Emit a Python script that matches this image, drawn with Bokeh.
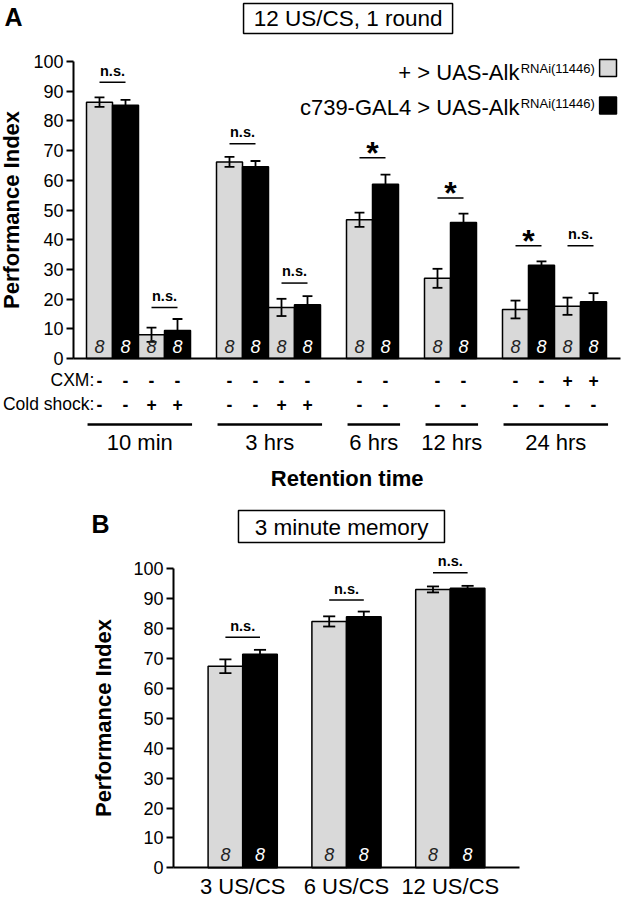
import numpy as np
from bokeh.plotting import figure
from bokeh.models import Range1d, FixedTicker, ColumnDataSource, LinearAxis
from bokeh.layouts import column
from bokeh.core.properties import value
from bokeh.embed import file_html
from bokeh.resources import INLINE

FONT = "Liberation Sans"
F = value(FONT)
GRAY = "#d9d9d9"

# ---------------- Panel A data ----------------
title_A = "12 US/CS, 1 round"
groups_A = ["10 min", "3 hrs", "6 hrs", "12 hrs", "24 hrs"]
bars_per_group_A = [4, 4, 2, 2, 4]
genotype_A = ["ctrl", "exp"] * 8
cxm_A = ["-", "-", "-", "-", "-", "-", "-", "-", "-", "-", "-", "-", "-", "-", "+", "+"]
cold_A = ["-", "-", "+", "+", "-", "-", "+", "+", "-", "-", "-", "-", "-", "-", "-", "-"]
pi_A = [86.3, 85.3, 8.0, 9.4, 66.2, 64.6, 17.2, 18.1, 46.7, 58.7, 27.0, 45.8, 16.5, 31.4, 17.6, 19.1]
sem_A = [1.6, 1.8, 2.4, 3.9, 1.7, 1.9, 2.9, 2.9, 2.4, 3.2, 3.2, 3.0, 3.0, 1.3, 2.9, 2.9]
n_A = [8] * 16
sig_A = ["n.s.", "n.s.", "n.s.", "n.s.", "*", "*", "*", "n.s."]
sig_level_A = [93.0, 17.2, 72.3, 25.4, 67.6, 54.0, 38.0, 38.0]

legend_labels = ["+ > UAS-Alk", "c739-GAL4 > UAS-Alk"]
legend_sup = "RNAi(11446)"

# ---------------- Panel B data ----------------
title_B = "3 minute memory"
groups_B = ["3 US/CS", "6 US/CS", "12 US/CS"]
pi_B_ctrl = [67.4, 82.4, 93.1]
pi_B_exp = [71.4, 84.0, 93.5]
sem_B_ctrl = [2.3, 1.7, 1.0]
sem_B_exp = [1.5, 1.7, 0.8]
n_B = [8] * 6
sig_B = ["n.s.", "n.s.", "n.s."]
sig_level_B = [77.1, 89.6, 98.7]

y_ticks = list(range(0, 101, 10))

W = 623
HA = 494
HB = 405
PPU_A = 2.97   # pixels per y unit, panel A
PPU_B = 2.99   # pixels per y unit, panel B


def bl(y, font_px, ppu):
    """convert a wanted baseline (data units) to the y the text glyph needs"""
    return y + 0.35 * font_px / ppu


def bar_positions(counts, start):
    xs, centers, spans = [], [], []
    pos = start
    for c in counts:
        g = [pos + i for i in range(c)]
        xs += g
        centers.append(sum(g) / len(g))
        spans.append((g[0], g[-1]))
        pos += c + 1
    return xs, centers, spans


def style_yaxis(ax, standoff):
    ax.axis_line_width = 2
    ax.major_tick_line_width = 2
    ax.major_tick_out = 7
    ax.major_tick_in = 0
    ax.minor_tick_line_color = None
    ax.major_label_text_font = FONT
    ax.major_label_text_font_size = "18px"
    ax.major_label_text_color = "black"
    ax.major_label_standoff = 3
    ax.axis_label_text_font = FONT
    ax.axis_label_text_font_size = "22px"
    ax.axis_label_text_font_style = "bold"
    ax.axis_label_text_color = "black"
    ax.axis_label_standoff = standoff


def draw_bars(p, xs, tops, sems, colors, ns, cap, n_y):
    src = ColumnDataSource(dict(x=xs, top=tops, color=colors,
                                lo=[t - s for t, s in zip(tops, sems)],
                                hi=[t + s for t, s in zip(tops, sems)],
                                c0=[x - cap / 2 for x in xs], c1=[x + cap / 2 for x in xs],
                                n=[str(v) for v in ns],
                                ncol=["#222222" if c == GRAY else "white" for c in colors]))
    p.vbar(x="x", top="top", bottom=0, width=1.0, fill_color="color",
           line_color="black", line_width=1.5, source=src)
    p.segment(x0="x", y0="lo", x1="x", y1="hi", line_color="black", line_width=1.8, source=src)
    p.segment(x0="c0", y0="hi", x1="c1", y1="hi", line_color="black", line_width=1.8, source=src)
    p.segment(x0="c0", y0="lo", x1="c1", y1="lo", line_color="black", line_width=1.8, source=src)
    p.text(x="x", y=n_y, text="n", text_color="ncol", text_font=F, text_font_size="18px",
           text_font_style="italic", text_align="center", text_baseline="alphabetic", source=src)


def draw_sig(p, pairs, levels, labels, ns_off, star_off):
    x0 = [a for a, b in pairs]
    x1 = [b for a, b in pairs]
    p.segment(x0=x0, y0=levels, x1=x1, y1=levels, line_color="black", line_width=1.5)
    mids = [(a + b) / 2 for a, b in pairs]
    ns_x = [m for m, l in zip(mids, labels) if l != "*"]
    ns_y = [v + ns_off for v, l in zip(levels, labels) if l != "*"]
    st_x = [m for m, l in zip(mids, labels) if l == "*"]
    st_y = [v + star_off for v, l in zip(levels, labels) if l == "*"]
    p.text(x=ns_x, y=ns_y, text=["n.s."] * len(ns_x), text_font=F, text_font_size="14.5px",
           text_font_style="bold", text_align="center", text_baseline="alphabetic")
    if st_x:
        p.text(x=st_x, y=st_y, text=["*"] * len(st_x), text_font=F, text_font_size="32px",
               text_font_style="bold", text_align="center", text_baseline="alphabetic")


# ================= Panel A =================
xA, centersA, spansA = bar_positions(bars_per_group_A, 1)
colorsA = [GRAY if g == "ctrl" else "black" for g in genotype_A]
x_endA = xA[-1] + 1.05

pA = figure(width=W, height=HA, x_range=Range1d(-2.808, 21.154), y_range=Range1d(-45.79, 120.54),
            output_backend="svg", toolbar_location=None, min_border=0,
            x_axis_type=None, y_axis_type=None)
pA.outline_line_color = None
pA.background_fill_color = "white"

yaxA = LinearAxis(fixed_location=0, bounds=(0, 100), ticker=FixedTicker(ticks=y_ticks),
                  axis_label="Performance Index")
style_yaxis(yaxA, 6)
pA.add_layout(yaxA, "left")
xaxA = LinearAxis(fixed_location=0, bounds=(0, x_endA), ticker=FixedTicker(ticks=[]))
xaxA.axis_line_width = 2
xaxA.major_tick_line_color = None
xaxA.minor_tick_line_color = None
xaxA.major_label_text_font_size = "0px"
pA.add_layout(xaxA, "below")

draw_bars(pA, xA, pi_A, sem_A, colorsA, n_A, 0.38, bl(1.8, 18, PPU_A))
pairsA = [(xA[2 * i], xA[2 * i + 1]) for i in range(len(xA) // 2)]
draw_sig(pA, pairsA, sig_level_A, sig_A, bl(2.25, 14.5, PPU_A), bl(-2.15, 32, PPU_A))

# title box
pA.rect(x=[10.56], y=[114.48], width=[8.04], height=[10.1], fill_color=None,
        line_color="black", line_width=1.5)
pA.text(x=[10.56], y=[bl(111.78, 22.5, PPU_A)], text=[title_A], text_font=F, text_font_size="22.5px",
        text_align="center", text_baseline="alphabetic")
pA.text(x=[-2.31], y=[bl(112.1, 25, PPU_A)], text=["A"], text_font=F, text_font_size="25px",
        text_font_style="bold", text_align="center", text_baseline="alphabetic")

# legend
pA.text(x=[17.15, 17.15], y=[bl(93.6, 22, PPU_A), bl(81.8, 22, PPU_A)], text=legend_labels,
        text_font=F, text_font_size="22px", text_align="right", text_baseline="alphabetic")
pA.text(x=[17.2, 17.2], y=[bl(96.2, 13, PPU_A), bl(84.4, 13, PPU_A)], text=[legend_sup, legend_sup],
        text_font=F, text_font_size="13px", text_align="left", text_baseline="alphabetic")
pA.rect(x=[20.56, 20.56], y=[97.8, 85.2], width=[0.65, 0.65], height=[5.7, 5.7],
        fill_color=[GRAY, "black"], line_color="black", line_width=1.5)

# treatment table
row_y = [bl(-9.43, 17.5, PPU_A), bl(-17.5, 17.5, PPU_A)]
pA.text(x=[0.8, 0.8], y=row_y, text=["CXM:", "Cold shock:"], text_font=F,
        text_font_size="17.5px", text_align="right", text_baseline="alphabetic")
pA.text(x=xA, y=[row_y[0]] * len(xA), text=cxm_A, text_font=F, text_font_size="17.5px",
        text_font_style="bold", text_align="center", text_baseline="alphabetic")
pA.text(x=xA, y=[row_y[1]] * len(xA), text=cold_A, text_font=F, text_font_size="17.5px",
        text_font_style="bold", text_align="center", text_baseline="alphabetic")

# group lines and labels
pA.segment(x0=[a - 0.46 for a, b in spansA], y0=[-22.2] * len(spansA),
           x1=[b + 0.56 for a, b in spansA], y1=[-22.2] * len(spansA),
           line_color="black", line_width=2.5)
pA.text(x=[c + 0.05 for c in centersA], y=[bl(-30.8, 22, PPU_A)] * len(centersA), text=groups_A,
        text_font=F, text_font_size="22px", text_align="center", text_baseline="alphabetic")
pA.text(x=[x_endA / 2], y=[bl(-43.1, 22, PPU_A)], text=["Retention time"], text_font=F,
        text_font_size="22px", text_font_style="bold", text_align="center", text_baseline="alphabetic")

# ================= Panel B =================
xB, centersB, spansB = bar_positions([2, 2, 2], 1.5)
pi_B = [v for pair in zip(pi_B_ctrl, pi_B_exp) for v in pair]
sem_B = [v for pair in zip(sem_B_ctrl, sem_B_exp) for v in pair]
colorsB = [GRAY, "black"] * 3
x_endB = xB[-1] + 1.5

pB = figure(width=W, height=HB, x_range=Range1d(-5.0, 13.006), y_range=Range1d(-10.6, 124.85),
            output_backend="svg", toolbar_location=None, min_border=0,
            x_axis_type=None, y_axis_type=None)
pB.outline_line_color = None
pB.background_fill_color = "white"

yaxB = LinearAxis(fixed_location=0, bounds=(0, 100), ticker=FixedTicker(ticks=y_ticks),
                  axis_label="Performance Index")
style_yaxis(yaxB, 14)
pB.add_layout(yaxB, "left")
xaxB = LinearAxis(fixed_location=0, bounds=(0, x_endB), ticker=FixedTicker(ticks=centersB),
                  major_label_overrides={c: g for c, g in zip(centersB, groups_B)})
xaxB.axis_line_width = 2
xaxB.major_tick_line_color = None
xaxB.major_tick_out = 0
xaxB.major_tick_in = 0
xaxB.minor_tick_line_color = None
xaxB.major_label_text_font = FONT
xaxB.major_label_text_font_size = "22px"
xaxB.major_label_text_color = "black"
xaxB.major_label_standoff = 6
pB.add_layout(xaxB, "below")

draw_bars(pB, xB, pi_B, sem_B, colorsB, n_B, 0.35, bl(2.4, 18, PPU_B))
pairsB = [(xB[2 * i], xB[2 * i + 1]) for i in range(3)]
draw_sig(pB, pairsB, sig_level_B, sig_B, bl(2.05, 14.5, PPU_B), bl(-2.1, 32, PPU_B))

pB.rect(x=[4.855], y=[114.15], width=[5.954], height=[10.7], fill_color=None,
        line_color="black", line_width=1.5)
pB.text(x=[4.86], y=[bl(111.1, 22.5, PPU_B)], text=[title_B], text_font=F, text_font_size="22.5px",
        text_align="center", text_baseline="alphabetic")
pB.text(x=[-2.11], y=[bl(112.1, 25, PPU_B)], text=["B"], text_font=F, text_font_size="25px",
        text_font_style="bold", text_align="center", text_baseline="alphabetic")

layout = column(pA, pB, spacing=0)
open("out.html", "w").write(file_html(layout, INLINE))
